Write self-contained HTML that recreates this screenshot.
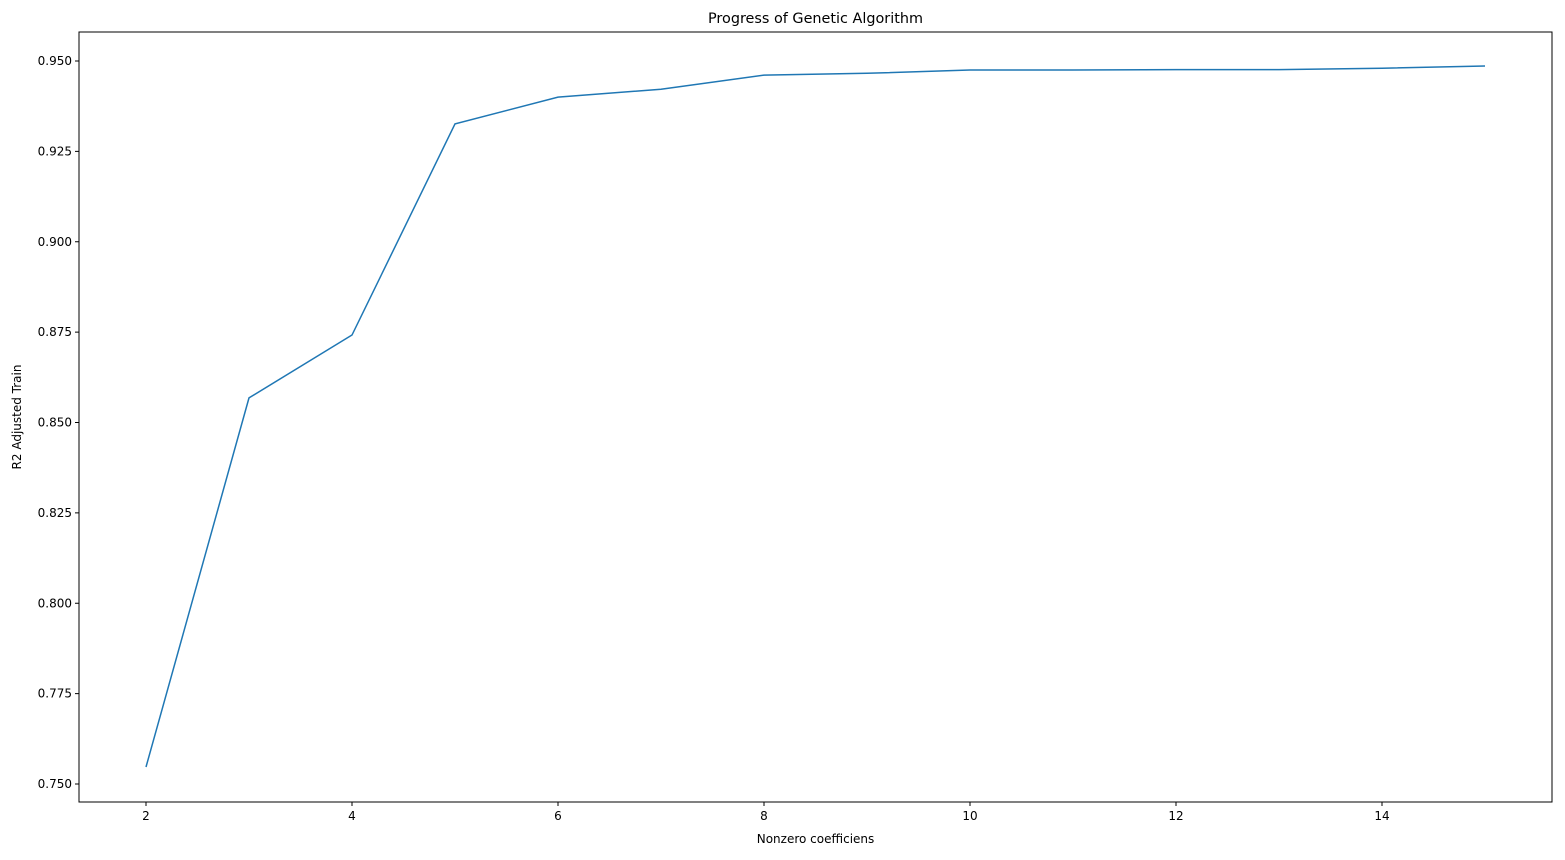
<!DOCTYPE html>
<html><head><meta charset="utf-8"><style>
body{margin:0;background:#fff;}
svg text{font-family:"DejaVu Sans","Liberation Sans",sans-serif;font-size:12px;fill:#000;}
</style></head><body>
<svg id="chart" width="1565" height="855" xmlns="http://www.w3.org/2000/svg">
<text x="815.5" y="23" text-anchor="middle" style="font-size:14.4px">Progress of Genetic Algorithm</text>
<g id="axes"></g>
<text x="815.5" y="843" text-anchor="middle">Nonzero coefficiens</text>
<text transform="translate(21,417) rotate(-90)" text-anchor="middle">R2 Adjusted Train</text>
</svg>
<script>
const xValues=[2,3,4,5,6,7,8,9,10,11,12,13,14,15];
const yValues=[0.7547,0.8568,0.8742,0.9326,0.9400,0.9422,0.9461,0.9466,0.9475,0.9475,0.9476,0.9476,0.9480,0.9486];
const xTicks=[2,4,6,8,10,12,14];
const yTicks=[0.750,0.775,0.800,0.825,0.850,0.875,0.900,0.925,0.950];
const L=79,R=1552,T=32,B=802;
const xs=v=>146+(v-2)*103;
const ys=v=>784-(v-0.75)*3615;
const NS="http://www.w3.org/2000/svg";
const g=document.getElementById('axes');
function mk(t,a){const e=document.createElementNS(NS,t);for(const k in a)e.setAttribute(k,a[k]);g.appendChild(e);return e;}
const line=mk('polyline',{points:xValues.map((x,i)=>xs(x)+','+ys(yValues[i])).join(' '),fill:'none',stroke:'#1f77b4','stroke-width':1.5});


const frame=mk('rect',{x:L,y:T,width:R-L,height:B-T,fill:'none',stroke:'#000','stroke-width':1});


xTicks.forEach(v=>{
 const tk=mk('line',{x1:xs(v),x2:xs(v),y1:B,y2:B+4,stroke:'#000'});
 
 
 const t=mk('text',{x:xs(v),y:B+18,'text-anchor':'middle'});t.textContent=v;
 
 
});
yTicks.forEach(v=>{
 const tk=mk('line',{x1:L-4,x2:L,y1:ys(v),y2:ys(v),stroke:'#000'});
 
 
 const t=mk('text',{x:L-7,y:ys(v)+4,'text-anchor':'end'});t.textContent=v.toFixed(3);
 
 
});
</script>
</body></html>
